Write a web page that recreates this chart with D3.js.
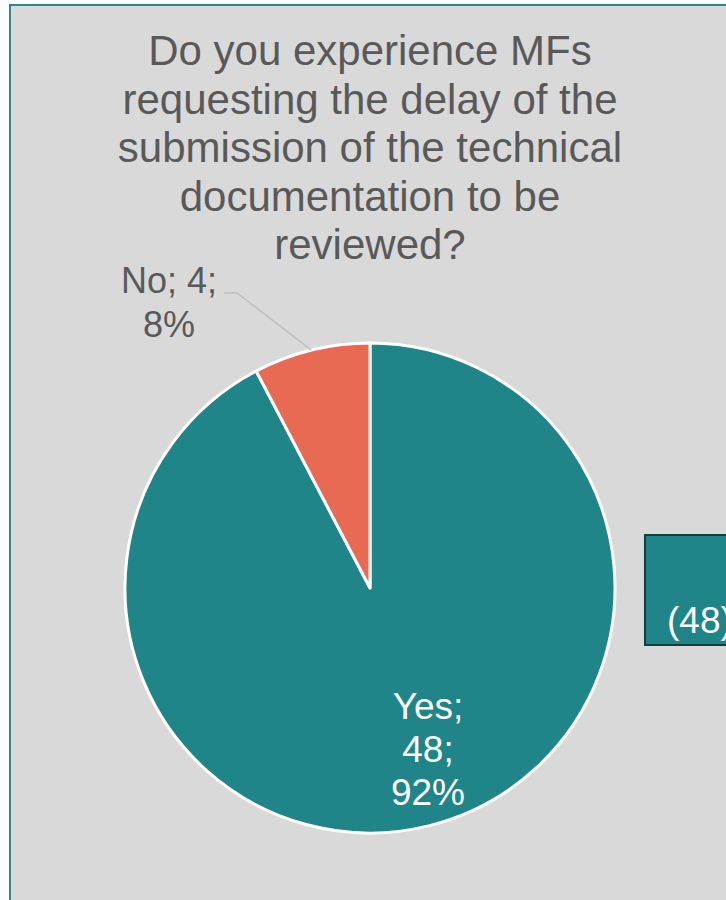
<!DOCTYPE html>
<html>
<head>
<meta charset="utf-8">
<script src="https://cdn.jsdelivr.net/npm/d3@7"></script>
<style>
  html, body { margin: 0; padding: 0; background: #ffffff; }
  svg { display: block; font-family: "Liberation Sans", Arial, sans-serif; }
</style>
</head>
<body>
<svg id="chart" width="726" height="900"></svg>
<script>
// Survey answers
const categories = ["Yes", "No"];
const counts = [48, 4];
const percents = ["92%", "8%"];
const colors = ["#1f8588", "#e86a53"];
const titleLines = [
  "Do you experience MFs",
  "requesting the delay of the",
  "submission of the technical",
  "documentation to be",
  "reviewed?"
];

const svg = d3.select("#chart");

// Chart area background and frame
svg.append("rect")
  .attr("x", 10).attr("y", 5)
  .attr("width", 740).attr("height", 920)
  .attr("fill", "#d9d9d9")
  .attr("stroke", "#2a8a8d")
  .attr("stroke-width", 2);

// Title
svg.append("text")
  .attr("text-anchor", "middle")
  .attr("fill", "#595959")
  .attr("font-size", 42)
  .selectAll("tspan")
  .data(titleLines)
  .join("tspan")
  .attr("x", 370)
  .attr("y", (d, i) => 65 + i * 48.5)
  .text(d => d);

// Pie
const cx = 370, cy = 588, r = 245;
const data = categories.map((c, i) => ({ name: c, value: counts[i], pct: percents[i], color: colors[i] }));
const pie = d3.pie().sort(null).value(d => d.value);
const arc = d3.arc().innerRadius(0).outerRadius(r);
const arcs = pie(data);

const g = svg.append("g").attr("transform", `translate(${cx},${cy})`);
g.selectAll("path")
  .data(arcs)
  .join("path")
  .attr("d", arc)
  .attr("fill", d => d.data.color)
  .attr("stroke", "#ffffff")
  .attr("stroke-width", 3)
  .attr("stroke-linejoin", "round");

// "Yes" label inside its slice
const yes = arcs[0];
const yesText = g.append("text")
  .attr("text-anchor", "middle")
  .attr("fill", "#ffffff")
  .attr("font-size", 37);
[`${yes.data.name};`, `${yes.data.value};`, yes.data.pct].forEach((t, i) => {
  yesText.append("tspan")
    .attr("x", 58)
    .attr("y", 131 + i * 43)
    .text(t);
});

// "No" label outside with leader line
const no = arcs[1];
const noMid = (no.startAngle + no.endAngle) / 2;
const edge = [Math.sin(noMid) * r, -Math.cos(noMid) * r];
g.append("polyline")
  .attr("points", [[-146, -295], [-133, -295], edge].map(p => p.join(",")).join(" "))
  .attr("fill", "none")
  .attr("stroke", "#bfbfbf")
  .attr("stroke-width", 1.5);

const noText = g.append("text")
  .attr("text-anchor", "middle")
  .attr("fill", "#595959")
  .attr("font-size", 36);
[`${no.data.name}; ${no.data.value};`, no.data.pct].forEach((t, i) => {
  noText.append("tspan")
    .attr("x", -201)
    .attr("y", -295 + i * 44)
    .text(t);
});

// Legend box (partially off the right edge)
svg.append("rect")
  .attr("x", 645).attr("y", 535)
  .attr("width", 120).attr("height", 110)
  .attr("fill", colors[0])
  .attr("stroke", "#0f3f40")
  .attr("stroke-width", 2);
svg.append("text")
  .attr("x", 667).attr("y", 633)
  .attr("fill", "#ffffff")
  .attr("font-size", 37)
  .text(`(${counts[0]})`);
</script>
</body>
</html>
